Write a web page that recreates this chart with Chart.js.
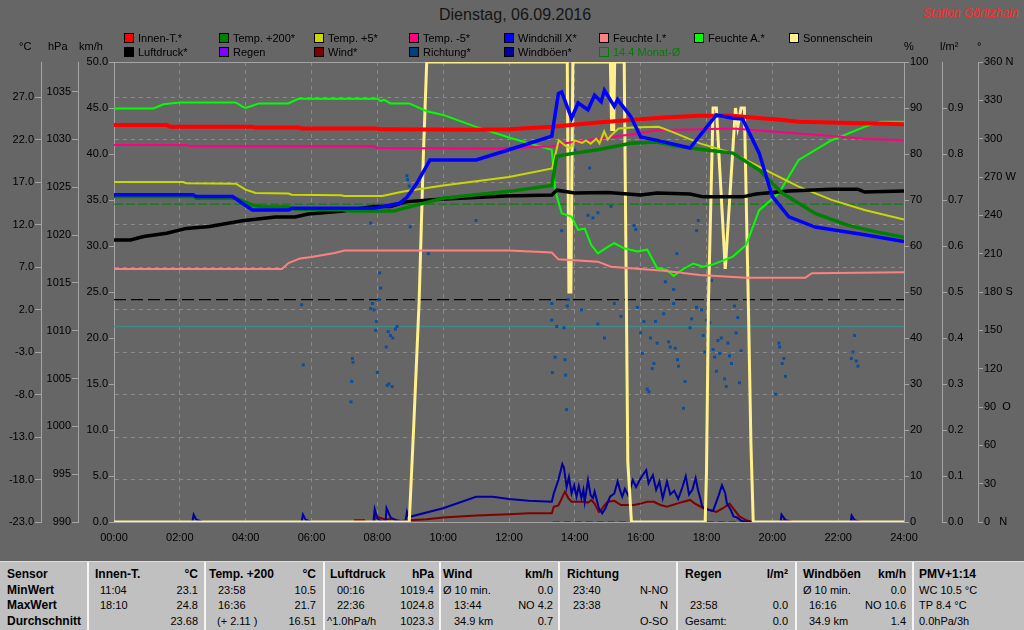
<!DOCTYPE html>
<html>
<head>
<meta charset="utf-8">
<title>Dienstag, 06.09.2016</title>
<script src="https://cdn.jsdelivr.net/npm/chart.js@4.4.1/dist/chart.umd.min.js"></script>
<style>
  body { margin: 0; width: 1024px; height: 630px; overflow: hidden; background: #666666; position: relative;
         font-family: "Liberation Sans", Arial, sans-serif; }
  #wrap { position: absolute; left: 0; top: 0; width: 1024px; height: 558px; }
  .lbl { position: absolute; white-space: nowrap; font-size: 11px; line-height: 13px; color: #000; }
  .box { position: absolute; width: 8px; height: 8px; border: 1px solid #000; }
  #title { position: absolute; left: 439px; top: 6px; font-size: 16px; color: #151515; white-space: nowrap; }
  #station { position: absolute; left: 923px; top: 6px; font-size: 12px; font-style: italic; color: #ff2a2a; white-space: nowrap; }
  #table { position: absolute; left: 0; top: 561px; width: 1024px; height: 69px; background: #c0c0c0; border-top: 1px solid #dcdcdc; }
  .c { position: absolute; white-space: nowrap; font-size: 11px; line-height: 14px; color: #000; }
  .b { font-weight: bold; font-size: 12px; }
  .sep { position: absolute; top: 0; width: 2px; height: 69px; background: #f4f4f4; }
</style>
</head>
<body>
<div id="title">Dienstag, 06.09.2016</div>
<div id="station">Station Göritzhain</div>
<div id="wrap"><canvas id="chart"></canvas></div>
<div id="table"></div>

<script>
// ---- data (hour of day, value) ----
const innenT = [[0,23.7],[1.6,23.7],[1.7,23.5],[4.2,23.5],[4.3,23.4],[5.6,23.4],[5.7,23.3],[8.0,23.3],[8.1,23.2],
  [11.0,23.15],[12.0,23.2],[13.3,23.5],[14.7,24.0],[15.7,24.3],[16.7,24.6],[17.8,24.8],[18.8,24.8],[19.4,24.6],
  [20.3,24.3],[20.8,24.1],[21.8,24.0],[24,23.8]];

const temp200 = [[0,15.3],[2.4,15.3],[2.5,15.1],[3.7,15.1],[4.2,14.3],[4.5,14.1],[5.3,14.05],[5.5,13.8],[6.9,13.75],
  [7.2,13.6],[8.5,13.6],[8.8,13.9],[10,15.1],[12,15.9],[13.3,16.6],[13.45,20.0],[13.7,20.2],[14.0,20.4],[14.7,20.8],
  [15.7,21.55],[16.5,21.7],[17.0,21.3],[17.8,20.85],[18.8,20.4],[19.6,18.4],[20.3,15.7],[21.3,13.3],[22.3,11.9],
  [23.2,11.1],[24,10.5]];

const temp5 = [[0,17.0],[2.1,17.0],[2.2,16.85],[3.7,16.8],[4.0,16.1],[4.3,15.7],[5.3,15.65],[5.4,15.5],[6.9,15.45],
  [7.0,15.35],[8.15,15.35],[8.75,15.86],[10,16.6],[11,17.1],[12,17.6],[13.31,18.6],[13.51,21.9],[13.77,21.1],
  [13.87,21.0],[14.0,21.9],[14.22,21.6],[14.34,21.9],[14.48,21.5],[14.65,22.1],[14.75,21.55],[14.89,22.95],
  [15.0,22.0],[15.13,22.6],[15.33,23.3],[15.74,23.4],[16.55,23.5],[16.96,22.9],[17.8,21.55],[18.8,20.4],
  [19.8,18.4],[20.8,16.45],[21.8,14.9],[22.8,13.7],[24,12.6]];

const tempM5 = [[0,21.35],[2.2,21.35],[2.3,21.2],[7.9,21.2],[8.0,21.0],[11.7,20.95],[13.3,21.2],[13.7,21.55],
  [14.7,22.1],[15.7,22.6],[16.5,23.1],[18.8,23.3],[19.8,23.0],[20.8,22.7],[21.8,22.4],[22.8,22.1],[24,21.9]];

const windchill = [[0,15.5],[2.4,15.5],[2.5,15.3],[3.6,15.3],[3.9,14.5],[4.2,13.7],[5.3,13.7],[5.4,13.9],[7.9,13.9],
  [8.3,14.2],[8.67,14.5],[8.9,15.2],[9.2,16.85],[9.6,19.6],[11.0,19.6],[12.0,20.8],[13.3,22.4],[13.5,27.4],
  [13.6,27.6],[13.9,24.5],[14.1,26.3],[14.4,25.5],[14.6,27.2],[14.8,26.45],[14.9,27.8],[15.2,25.9],[15.3,26.7],
  [15.7,24.7],[16.0,22.3],[16.5,21.9],[17.5,21.0],[18.3,24.9],[18.8,24.5],[19.1,24.4],[19.6,20.4],[20.0,15.3],
  [20.5,12.9],[21.3,11.7],[22.8,10.8],[24,10.0]];

const luftdruck = [[0,1019.5],[0.5,1019.5],[0.9,1019.85],[1.6,1020.2],[2.2,1020.7],[2.9,1020.9],[3.9,1021.5],
  [4.9,1021.9],[5.5,1021.9],[5.9,1022.2],[6.9,1022.5],[7.9,1023.0],[8.4,1023.0],[8.9,1023.5],[9.9,1023.75],
  [11.9,1024.1],[13.3,1024.2],[13.45,1024.7],[14.0,1024.4],[15.0,1024.45],[16.0,1024.2],[16.5,1024.4],
  [17.5,1024.3],[17.9,1024.0],[19.1,1024.0],[19.5,1024.3],[20.5,1024.6],[21.8,1024.8],[22.6,1024.8],
  [22.8,1024.5],[24,1024.6]];

const feuchteI = [[0,55.0],[5.1,55.0],[5.3,56.3],[5.65,57.3],[6.0,57.6],[6.7,58.5],[7.0,59.0],[12.0,59.0],
  [13.3,58.6],[13.5,57.1],[14.7,56.6],[15.1,55.5],[16.0,55.0],[16.7,54.6],[17.8,53.7],[19.2,53.1],[21.0,53.1],
  [21.2,54.1],[24,54.3]];

const feuchteA = [[0,89.9],[1.2,89.9],[1.5,90.8],[2.0,91.2],[3.7,91.2],[3.9,90.3],[4.0,90.0],[4.2,90.5],[4.4,91.0],
  [5.3,91.0],[5.6,92.0],[8.0,92.0],[8.1,91.5],[8.2,91.8],[8.4,91.0],[8.97,91.0],[9.5,89.3],[10,88.5],[11,85.9],
  [12,83.6],[13.3,80.9],[13.4,72.2],[13.6,67.1],[13.9,66.4],[14.1,63.5],[14.3,63.8],[14.5,60.2],[14.7,58.4],
  [15.0,59.8],[15.2,60.6],[15.5,59.5],[15.9,58.8],[16.2,59.2],[16.5,55.2],[16.8,54.8],[17.0,53.5],[17.3,55.0],
  [17.6,56.2],[17.9,55.5],[18.2,56.0],[18.8,57.7],[19.2,60.2],[19.6,67.8],[20.2,71.5],[20.8,78.7],[21.8,83.0],
  [22.8,85.9],[23.3,87.0],[24,87.0]];

const sonne = [[0,0],[8.97,0],[9.1,20],[9.27,48],[9.4,80],[9.5,100],[13.77,100],[13.82,50],[13.88,50],[13.94,100],
  [15.08,100],[15.12,85],[15.15,100],[15.18,85],[15.21,100],[15.5,100],[15.61,13],[15.72,0],[17.96,0],[18.0,11],
  [18.06,48],[18.2,90],[18.3,90],[18.57,55],[18.88,90],[18.95,86],[19.05,90],[19.15,90],[19.27,48],[19.35,17],
  [19.42,0],[24,0]];

const regen = [[13.33,0],[24,0]];

const wind = [[0,0],[7.3,0],[7.32,0.2],[7.6,0.2],[7.62,0],[7.9,0],[7.95,0.7],[8.05,0.5],[8.2,0.3],[8.5,0.3],
  [8.7,0.1],[8.97,0.2],[9.5,0.3],[10,0.5],[11,0.7],[12,0.83],[12.6,0.94],[13.3,0.94],[13.36,1.66],[13.5,1.8],
  [13.7,3.3],[13.8,2.6],[13.9,2.2],[14.3,2.2],[14.4,2.1],[14.5,2.4],[14.6,2.0],[14.73,1.1],[14.8,1.3],[14.9,1.8],
  [15.0,2.2],[15.2,2.3],[15.4,1.85],[15.8,1.85],[16.0,2.0],[16.2,2.2],[16.4,2.2],[16.6,1.85],[16.8,1.66],
  [17.1,2.0],[17.3,2.2],[17.5,2.4],[17.65,2.0],[17.9,1.5],[18.1,1.3],[18.3,1.1],[18.5,1.5],[18.7,2.0],
  [18.85,1.3],[19.0,0.6],[19.2,0.2],[19.4,0],[20.3,0],[20.35,0.2],[20.5,0.15],[20.6,0],[22.4,0],[22.45,0.2],
  [22.6,0.1],[22.7,0],[24,0]];

const windboeen = [[0,0],[2.38,0],[2.42,0.8],[2.5,0.25],[2.7,0],[5.7,0],[5.74,0.8],[5.82,0.25],[6.0,0],[7.88,0],
  [7.92,1.4],[8.0,0.4],[8.1,0.1],[8.25,0],[8.28,1.5],[8.4,0.5],[8.6,0.1],[8.85,0],[8.9,1.1],[8.97,0.3],[9.0,0.58],
  [10,1.5],[11,2.75],[11.5,2.75],[12,2.5],[12.6,2.3],[13.3,2.2],[13.36,3.1],[13.5,4.56],[13.62,6.3],[13.67,5.9],
  [13.75,3.8],[13.82,4.9],[13.9,3.1],[13.98,4.0],[14.05,2.75],[14.12,3.9],[14.2,2.6],[14.26,3.5],[14.3,2.2],
  [14.4,4.56],[14.48,2.9],[14.55,2.6],[14.6,3.3],[14.73,1.5],[14.83,0.94],[14.93,1.5],[15.07,2.75],[15.2,3.1],
  [15.3,4.4],[15.37,3.5],[15.44,2.75],[15.52,3.6],[15.62,2.9],[15.76,4.56],[15.86,3.8],[16.0,4.75],[16.17,5.65],
  [16.24,4.2],[16.37,5.1],[16.47,3.5],[16.57,4.4],[16.67,2.57],[16.8,4.4],[16.9,3.0],[17.02,3.4],[17.14,2.5],
  [17.27,3.8],[17.37,4.98],[17.47,3.0],[17.57,3.5],[17.67,4.75],[17.74,3.5],[17.8,2.75],[17.87,1.66],[18.07,1.3],
  [18.2,1.2],[18.37,2.9],[18.47,4.0],[18.57,3.1],[18.62,2.0],[18.74,1.3],[18.82,0.6],[18.92,0.5],[19.07,0.1],
  [19.3,0],[20.25,0],[20.28,0.8],[20.4,0.2],[20.5,0],[22.38,0],[22.41,0.7],[22.5,0.2],[22.6,0],[24,0]];

const richtung = [[5.7,170],[5.75,123],[7.2,94],[7.22,110],[7.24,128],[7.26,125],[7.8,167],[7.8,234],[7.85,171],
  [7.9,166],[7.97,157],[7.95,150],[8.0,117],[8.07,195],[8.1,183],[8.05,174],[8.27,137],[8.3,107],[8.33,149],
  [8.35,108],[8.4,146],[8.45,106],[8.47,144],[8.55,151],[8.6,153],[8.9,271],[8.92,268],[8.97,263],[9.0,231],
  [9.55,210],[11.0,236],[13.3,158],[13.32,117],[13.4,129],[13.45,153],[13.6,228],[13.67,152],[13.7,127],
  [13.72,115],[13.75,88],[13.77,169],[13.8,174],[13.3,171],[14.0,291],[14.2,166],[14.45,277],[14.7,155],
  [14.7,242],[14.4,240],[14.55,238],[14.9,144],[15.2,171],[15.1,247],[15.4,161],[15.8,232],[15.85,229],
  [15.9,168],[16.0,148],[16.05,132],[16.1,157],[16.2,104],[16.25,102],[16.3,144],[16.35,120],[16.4,124],
  [16.45,157],[16.5,140],[16.7,163],[16.75,188],[16.85,141],[16.9,137],[17.0,171],[17.0,182],[17.05,136],
  [17.1,210],[17.12,127],[17.15,122],[17.2,195],[17.3,89],[17.35,110],[17.5,152],[17.55,159],[17.7,168],
  [17.7,228],[17.75,236],[17.85,166],[17.9,146],[17.95,133],[18.0,158],[18.1,156],[18.15,189],[18.2,135],
  [18.25,129],[18.3,118],[18.35,142],[18.4,132],[18.45,144],[18.55,112],[18.6,106],[18.65,140],[18.7,130],
  [18.76,124],[18.85,169],[18.9,148],[18.95,160],[19.0,109],[19.05,134],[20.2,140],[20.22,137],[20.3,124],
  [20.35,128],[20.4,114],[20.1,100],[22.4,128],[22.45,133],[22.5,146],[22.55,126],[22.6,122]];

const monatMittel = 14.4;     // °C
const normalDruck = 1013.25;  // hPa
const nullGrad = 0;           // °C

// ---- axes ----
const stunden = [0,2,4,6,8,10,12,14,16,18,20,22,24];
const tempTicks = [-23,-18,-13,-8,-3,2,7,12,17,22,27];
const druckTicks = [990,995,1000,1005,1010,1015,1020,1025,1030,1035];
const windTicks = [0,5,10,15,20,25,30,35,40,45,50];
const feuchteTicks = [0,10,20,30,40,50,60,70,80,90,100];
const regenTicks = [0,0.1,0.2,0.3,0.4,0.5,0.6,0.7,0.8,0.9];
const richtungTicks = [0,30,60,90,120,150,180,210,240,270,300,330,360];
const richtungNamen = {0: '0   N', 90: '90  O', 180: '180 S', 270: '270 W', 360: '360 N'};

// ---- legend & table ----
const legende = [
  ['Innen-T.*', '#ff0000'], ['Temp. +200*', '#008000'], ['Temp. +5*', '#c8d800'], ['Temp. -5*', '#ff0080'],
  ['Windchill X*', '#0000ff'], ['Feuchte I.*', '#ff8080'], ['Feuchte A.*', '#00ff00'], ['Sonnenschein', '#fff08c'],
  ['Luftdruck*', '#000000'], ['Regen', '#8000ff'], ['Wind*', '#800000'], ['Richtung*', '#004080'], ['Windböen*', '#0000a0']
];

const tabelle = [
  ['Sensor', 7, 0, 'l', 1], ['MinWert', 7, 1, 'l', 1], ['MaxWert', 7, 2, 'l', 1], ['Durchschnitt', 7, 3, 'l', 1],
  ['Innen-T.', 95, 0, 'l', 1], ['°C', 198, 0, 'r', 1], ['11:04', 100, 1, 'l'], ['23.1', 198, 1, 'r'],
  ['18:10', 100, 2, 'l'], ['24.8', 198, 2, 'r'], ['23.68', 198, 3, 'r'],
  ['Temp. +200', 209, 0, 'l', 1], ['°C', 316, 0, 'r', 1], ['23:58', 218, 1, 'l'], ['10.5', 316, 1, 'r'],
  ['16:36', 218, 2, 'l'], ['21.7', 316, 2, 'r'], ['(+ 2.11 )', 217, 3, 'l'], ['16.51', 316, 3, 'r'],
  ['Luftdruck', 330, 0, 'l', 1], ['hPa', 434, 0, 'r', 1], ['00:16', 337, 1, 'l'], ['1019.4', 434, 1, 'r'],
  ['22:36', 337, 2, 'l'], ['1024.8', 434, 2, 'r'], ['^1.0hPa/h', 327, 3, 'l'], ['1023.3', 434, 3, 'r'],
  ['Wind', 443, 0, 'l', 1], ['km/h', 553, 0, 'r', 1], ['Ø 10 min.', 443, 1, 'l'], ['0.0', 553, 1, 'r'],
  ['13:44', 454, 2, 'l'], ['NO 4.2', 553, 2, 'r'], ['34.9 km', 454, 3, 'l'], ['0.7', 553, 3, 'r'],
  ['Richtung', 567, 0, 'l', 1], ['23:40', 573, 1, 'l'], ['N-NO', 668, 1, 'r'], ['23:38', 573, 2, 'l'],
  ['N', 668, 2, 'r'], ['O-SO', 668, 3, 'r'],
  ['Regen', 685, 0, 'l', 1], ['l/m²', 788, 0, 'r', 1], ['23:58', 690, 2, 'l'], ['0.0', 788, 2, 'r'],
  ['Gesamt:', 685, 3, 'l'], ['0.0', 788, 3, 'r'],
  ['Windböen', 803, 0, 'l', 1], ['km/h', 906, 0, 'r', 1], ['Ø 10 min.', 803, 1, 'l'], ['0.0', 906, 1, 'r'],
  ['16:16', 809, 2, 'l'], ['NO 10.6', 906, 2, 'r'], ['34.9 km', 809, 3, 'l'], ['1.4', 906, 3, 'r'],
  ['PMV+1:14', 919, 0, 'l', 1], ['WC 10.5 °C', 919, 1, 'l'], ['TP 8.4 °C', 919, 2, 'l'], ['0.0hPa/3h', 919, 3, 'l']
];
const trenner = [87, 204, 323, 439, 558, 676, 795, 912];

function el(parent, cls, text, css) {
  const d = document.createElement('div');
  d.className = cls;
  if (text) d.textContent = text;
  Object.assign(d.style, css);
  parent.appendChild(d);
  return d;
}

legende.forEach(([name, col], i) => {
  const row = i < 8 ? 0 : 1;
  const x = 124 + 95 * (i % 8);
  const y = 33 + 14 * row;
  el(document.body, 'box', '', { left: x + 'px', top: y + 'px', background: col });
  el(document.body, 'lbl', name, { left: (x + 14) + 'px', top: (y - 1) + 'px' });
});
el(document.body, 'box', '', { left: '599px', top: '47px', borderColor: '#008000' });
el(document.body, 'lbl', '14.4 Monat-Ø', { left: '613px', top: '46px', color: '#008000' });

[['°C', 19], ['hPa', 48], ['km/h', 79], ['%', 904], ['l/m²', 940], ['°', 977]].forEach(([t, x]) => {
  el(document.body, 'lbl', t, { left: x + 'px', top: '40px' });
});

const tab = document.getElementById('table');
trenner.forEach(x => el(tab, 'sep', '', { left: x + 'px' }));
const zeilen = [5, 21, 36, 52];
tabelle.forEach(([t, x, r, a, b]) => {
  const css = { top: zeilen[r] + 'px' };
  if (a === 'r') css.right = (1024 - x) + 'px'; else css.left = x + 'px';
  el(tab, b ? 'c b' : 'c', t, css);
});

// ---- chart ----
const gridCol = '#8a8a8a';
const axisCol = '#a4a4a4';
Chart.defaults.font.family = '"Liberation Sans", Arial, sans-serif';
Chart.defaults.font.size = 11;
Chart.defaults.color = '#000';

const pts = arr => arr.map(p => ({ x: p[0], y: p[1] }));
const flat = v => [{ x: 0, y: v }, { x: 24, y: v }];

function achse(pos, weight, width, min, max, tickList, fmt, extra) {
  return Object.assign({
    type: 'linear', position: pos, weight: weight, min: min, max: max,
    afterFit: s => { s.width = width; },
    afterBuildTicks: s => { s.ticks = tickList.map(v => ({ value: v })); },
    grid: { drawOnChartArea: false, color: axisCol, tickLength: 6 },
    border: { color: axisCol },
    ticks: { color: '#000', padding: 1, autoSkip: false, callback: fmt }
  }, extra || {});
}

function linie(label, data, axis, color, width, extra) {
  return Object.assign({
    label: label, data: data, yAxisID: axis, borderColor: color, backgroundColor: color,
    borderWidth: width, pointRadius: 0, tension: 0, fill: false
  }, extra || {});
}

const frame = {
  id: 'frame',
  beforeDatasetsDraw(chart) {
    const { ctx, chartArea: a } = chart;
    ctx.save();
    ctx.strokeStyle = axisCol;
    ctx.lineWidth = 1;
    ctx.beginPath();
    ctx.moveTo(a.left, a.top + 0.5);
    ctx.lineTo(a.right, a.top + 0.5);
    ctx.stroke();
    ctx.restore();
  }
};

new Chart(document.getElementById('chart'), {
  type: 'line',
  data: {
    datasets: [
      linie('Windchill X*', pts(windchill), 'yT', '#0000ff', 3.5),
      linie('Innen-T.*', pts(innenT), 'yT', '#ff0000', 4),
      linie('Temp. +200*', pts(temp200), 'yT', '#008000', 3.5),
      linie('Luftdruck*', pts(luftdruck), 'yP', '#000000', 3.5),
      linie('Temp. +5*', pts(temp5), 'yT', '#c8d800', 2),
      linie('Temp. -5*', pts(tempM5), 'yT', '#ff0080', 2),
      linie('Feuchte I.*', pts(feuchteI), 'yH', '#ff8080', 2),
      linie('Feuchte A.*', pts(feuchteA), 'yH', '#00ff00', 2),
      linie('Sonnenschein', pts(sonne), 'yH', '#fff08c', 3),
      linie('Windböen*', pts(windboeen), 'yW', '#0000a0', 2),
      linie('Wind*', pts(wind), 'yW', '#800000', 2),
      linie('Richtung*', pts(richtung), 'yD', '#0b4f9c', 0,
        { showLine: false, pointRadius: 2.1, pointStyle: 'rect', pointBorderWidth: 0 }),
      linie('Regen', pts(regen), 'yR', '#8000ff', 2, { borderDash: [7, 4] }),
      linie('Monat-Ø', flat(monatMittel), 'yT', '#008000', 1, { borderDash: [9, 3] }),
      linie('Normaldruck', flat(normalDruck), 'yP', '#000000', 1.2, { borderDash: [12, 5] }),
      linie('0 °C', flat(nullGrad), 'yT', '#3e8a8a', 1.5)
    ]
  },
  options: {
    responsive: true,
    maintainAspectRatio: false,
    animation: false,
    events: [],
    layout: { padding: { top: 62, bottom: 12, left: 0, right: 0 } },
    plugins: { legend: { display: false }, tooltip: { enabled: false } },
    scales: {
      x: {
        type: 'linear', position: 'bottom', min: 0, max: 24,
        afterFit: s => { s.height = 24; },
        afterBuildTicks: s => { s.ticks = stunden.map(v => ({ value: v })); },
        grid: {
          drawTicks: false,
          color: c => (c.tick && (c.tick.value === 0 || c.tick.value === 24)) ? 'rgba(0,0,0,0)' : gridCol
        },
        border: { color: axisCol, dash: [4, 4] },
        ticks: { color: '#000', padding: 9, maxRotation: 0, autoSkip: false,
                 callback: v => String(v).padStart(2, '0') + ':00' }
      },
      yT: achse('left', 3, 41, -23, 31.12, tempTicks, v => v.toFixed(1), {
        grid: { drawOnChartArea: true, color: gridCol, tickColor: axisCol, tickLength: 6 },
        border: { color: axisCol, dash: [4, 4] }
      }),
      yP: achse('left', 2, 37, 990, 1038.1, druckTicks, v => String(v)),
      yW: achse('left', 1, 36, 0, 50, windTicks, v => v.toFixed(1), {
        grid: { drawOnChartArea: false, color: axisCol, tickLength: 5 }
      }),
      yH: achse('right', 1, 38, 0, 100, feuchteTicks, v => String(v), {
        grid: { drawOnChartArea: false, color: axisCol, tickLength: 5 }
      }),
      yR: achse('right', 2, 36, 0, 1, regenTicks, v => v.toFixed(1), {
        grid: { drawOnChartArea: false, color: axisCol, tickLength: 5 }
      }),
      yD: achse('right', 3, 46, 0, 360, richtungTicks, v => richtungNamen[v] || String(v), {
        grid: { drawOnChartArea: false, color: axisCol, tickLength: 5 }
      })
    }
  },
  plugins: [frame]
});
</script>
</body>
</html>
